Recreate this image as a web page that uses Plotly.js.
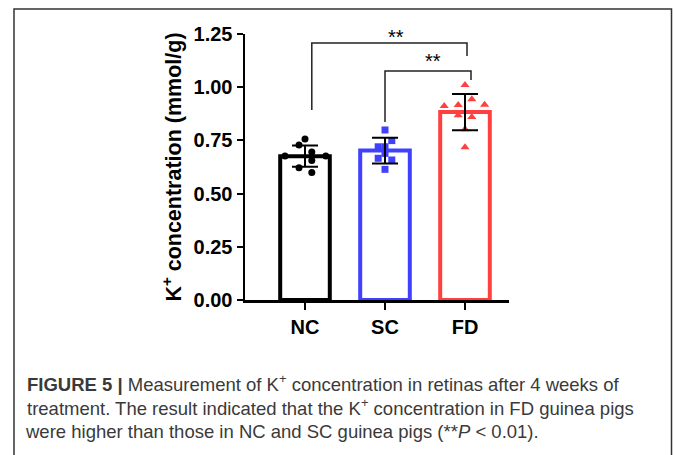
<!DOCTYPE html>
<html>
<head>
<meta charset="utf-8">
<script src="https://cdn.plot.ly/plotly-3.0.1.min.js"></script>
<style>html,body{margin:0;padding:0;background:#fff;}#chart{width:673px;height:455px;}</style>
</head>
<body>
<div id="chart"></div>
<script>
// ---- data ----
const groups = ["NC", "SC", "FD"];
const means = [0.676, 0.702, 0.883];
const sds = [0.050, 0.061, 0.085];
const ncValues = [0.757, 0.728, 0.695, 0.677, 0.677, 0.655, 0.622, 0.599];
const ncJitter = [0, -0.075, 0.085, -0.25, 0.26, 0.085, -0.075, 0.085];
const scValues = [0.799, 0.749, 0.720, 0.720, 0.689, 0.666, 0.658, 0.614];
const scJitter = [0, 0.085, -0.085, 0, 0, -0.085, 0.085, 0];
const fdValues = [1.010, 0.943, 0.912, 0.916, 0.918, 0.868, 0.860, 0.802, 0.718];
const fdJitter = [0, 0.085, -0.26, -0.085, 0.245, -0.085, 0.085, 0, 0];
const yTicks = [0, 0.25, 0.5, 0.75, 1.0, 1.25];
const significance = ["**", "**"];

const colors = ["#000000", "rgb(64,64,255)", "rgb(255,64,64)"];
const symbols = ["circle", "square", "triangle-up"];
const pointSets = [[ncValues, ncJitter], [scValues, scJitter], [fdValues, fdJitter]];

const traces = [];
traces.push({
  type: "bar", x: [0, 1, 2], y: means, width: 0.62,
  marker: { color: "rgba(255,255,255,1)", line: { color: colors, width: 4 } },
  hoverinfo: "skip", showlegend: false
});
pointSets.forEach((ps, i) => {
  traces.push({
    type: "scatter", mode: "markers",
    x: ps[1].map(d => i + d), y: ps[0],
    marker: { symbol: symbols[i], color: colors[i], size: i === 2 ? 8 : 7, line: { width: 0 } },
    showlegend: false, hoverinfo: "skip"
  });
});
traces.push({
  type: "scatter", mode: "markers", x: [0, 1, 2], y: means,
  marker: { color: "rgba(0,0,0,0)", size: 1 },
  error_y: { type: "data", array: sds, visible: true, color: "#000", thickness: 2, width: 13 },
  showlegend: false, hoverinfo: "skip"
});

// pixel -> paper helpers (plot area: x 245..509, y 34..300)
const L = 245, W = 264, T = 34, H = 266;
const px = v => (v - L) / W;
const py = v => (T + H - v) / H;

const bracketStyle = { color: "#222", width: 1.5 };
const shapes = [
  { type: "path", xref: "x", yref: "y", path: "M0.085,0.893 L0.085,1.208 L2.025,1.208 L2.025,1.147", line: bracketStyle },
  { type: "path", xref: "x", yref: "y", path: "M1.0,0.836 L1.0,1.076 L2.075,1.076 L2.075,1.034", line: bracketStyle },
  { type: "rect", xref: "paper", yref: "paper", x0: px(14), x1: px(671.5), y0: py(9), y1: py(480), line: { color: "#333", width: 1.5 } }
];

const capFont = { family: "Liberation Sans, Arial, sans-serif", size: 18.5, color: "#3a3a3a" };
const starFont = { family: "Liberation Sans, Arial", size: 20, color: "#000" };
const annotations = [
  { xref: "x", yref: "y", x: 1.14, y: 1.235, text: significance[0], showarrow: false, font: starFont },
  { xref: "x", yref: "y", x: 1.6, y: 1.123, text: significance[1], showarrow: false, font: starFont },
  { xref: "paper", yref: "paper", x: px(25), y: py(383), xanchor: "left", yanchor: "middle", showarrow: false, align: "left", font: capFont,
    text: "<b>FIGURE 5 |</b> Measurement of K<sup>+</sup> concentration in retinas after 4 weeks of" },
  { xref: "paper", yref: "paper", x: px(25), y: py(407), xanchor: "left", yanchor: "middle", showarrow: false, align: "left", font: capFont,
    text: "treatment. The result indicated that the K<sup>+</sup> concentration in FD guinea pigs" },
  { xref: "paper", yref: "paper", x: px(23), y: py(431), xanchor: "left", yanchor: "middle", showarrow: false, align: "left", font: capFont,
    text: "were higher than those in NC and SC guinea pigs (**<i>P</i> &lt; 0.01)." }
];

const layout = {
  width: 673, height: 455,
  margin: { l: L, r: 673 - L - W, t: T, b: 455 - T - H, pad: 0 },
  paper_bgcolor: "#fff", plot_bgcolor: "rgba(0,0,0,0)",
  showlegend: false,
  xaxis: {
    range: [-0.75, 2.55], tickvals: [0, 1, 2], ticktext: groups,
    showgrid: false, zeroline: false, showline: true, linecolor: "#000", linewidth: 2.5,
    ticks: "outside", ticklen: 7, tickwidth: 2, tickcolor: "#000",
    tickfont: { family: "Liberation Sans, Arial", size: 20, weight: "bold", color: "#000" }
  },
  yaxis: {
    range: [0, 1.25], tickvals: yTicks, tickformat: ".2f",
    showgrid: false, zeroline: false, showline: true, linecolor: "#000", linewidth: 2.5,
    ticks: "outside", ticklen: 6, tickwidth: 2, tickcolor: "#000",
    tickfont: { family: "Liberation Sans, Arial", size: 20, weight: "bold", color: "#000" },
    title: { text: "K<sup>+</sup> concentration (mmol/g)", standoff: 6,
      font: { family: "Liberation Sans, Arial", size: 21.5, weight: "bold", color: "#000" } }
  },
  shapes: shapes,
  annotations: annotations
};

Plotly.newPlot("chart", traces, layout, { displayModeBar: false, staticPlot: true });
</script>
</body>
</html>
